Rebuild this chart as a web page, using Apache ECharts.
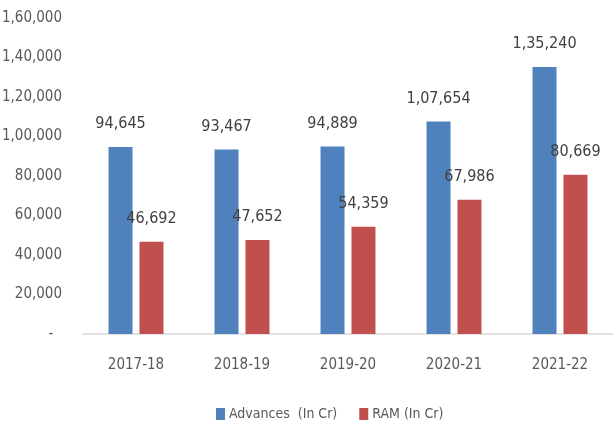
<!DOCTYPE html>
<html>
<head>
<meta charset="utf-8">
<script src="https://cdn.jsdelivr.net/npm/echarts@6/dist/echarts.min.js"></script>
<style>
  html, body { margin: 0; padding: 0; background: #fff; }
  #chart { width: 613px; height: 430px; }
</style>
</head>
<body>
<div id="chart"></div>
<script>
// data
var years = ['2017-18', '2018-19', '2019-20', '2020-21', '2021-22'];
var advances = [94645, 93467, 94889, 107654, 135240];
var ram = [46692, 47652, 54359, 67986, 80669];
var seriesNames = ['Advances  (In Cr)', 'RAM (In Cr)'];

var font = "'Liberation Sans Narrow', 'DejaVu Sans Condensed', sans-serif";

// indian grouping: 1,35,240
function fmtIN(v) {
  if (v === 0) return '-  ';
  var s = String(Math.round(v));
  if (s.length <= 3) return s;
  var last3 = s.slice(-3);
  var rest = s.slice(0, -3).replace(/\B(?=(\d{2})+(?!\d))/g, ',');
  return rest + ',' + last3;
}

var myChart = echarts.init(document.getElementById('chart'));
var option = {
  animation: false,
  textStyle: { fontFamily: font },
  grid: { left: 83, right: 0, top: 18, bottom: 96, containLabel: false, outerBoundsMode: 'none' },
  legend: {
    bottom: 4,
    left: 211,
    itemWidth: 9,
    itemHeight: 12,
    itemGap: 22,
    icon: 'rect',
    textStyle: { fontFamily: font, fontSize: 14, color: '#595959', padding: [0, 0, 0, -1] },
    data: seriesNames
  },
  xAxis: {
    type: 'category',
    data: years,
    axisLine: { lineStyle: { color: '#d9d9d9', width: 1.5 } },
    axisTick: { show: false },
    axisLabel: { fontFamily: font, fontSize: 15, color: '#595959', margin: 24 }
  },
  yAxis: {
    type: 'value',
    min: 0,
    max: 160000,
    interval: 20000,
    splitLine: { show: false },
    axisLine: { show: false },
    axisTick: { show: false },
    axisLabel: {
      fontFamily: font, fontSize: 15, color: '#595959', margin: 21,
      formatter: fmtIN
    }
  },
  series: [
    {
      name: seriesNames[0],
      type: 'bar',
      data: advances,
      barWidth: 24,
      barGap: '29%',
      itemStyle: { color: '#4F81BD' },
      label: {
        show: true, position: 'top', distance: 15,
        fontFamily: font, fontSize: 16, color: '#404040',
        formatter: function (p) { return fmtIN(p.value); }
      }
    },
    {
      name: seriesNames[1],
      type: 'bar',
      data: ram,
      barWidth: 24,
      itemStyle: { color: '#C0504D' },
      label: {
        show: true, position: 'top', distance: 15,
        fontFamily: font, fontSize: 16, color: '#404040',
        formatter: function (p) { return fmtIN(p.value); }
      }
    }
  ]
};
myChart.setOption(option);
</script>
</body>
</html>
